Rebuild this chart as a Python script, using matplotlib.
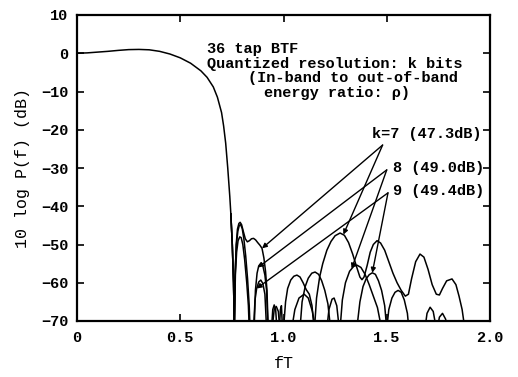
import numpy as np
import matplotlib
matplotlib.use("Agg")
import matplotlib.pyplot as plt

# common passband / transition (fT, dB)
pass_f = [0.0, 0.05, 0.1, 0.15, 0.2, 0.25, 0.3, 0.35, 0.4, 0.45, 0.5, 0.55, 0.6, 0.63, 0.66,
          0.68, 0.7, 0.71, 0.72, 0.73, 0.74, 0.745]
pass_db = [0.0, 0.1, 0.3, 0.5, 0.75, 0.95, 1.0, 0.9, 0.5, -0.2, -1.2, -2.6, -4.6, -6.3, -8.8,
           -11.5, -15.5, -19.0, -23.5, -30.0, -37.5, -42.0]

# stopband, k = 7
k7_f = [0.745, 0.752, 0.758, 0.762, 0.766, 0.771, 0.777, 0.784, 0.79, 0.797, 0.805, 0.815,
        0.825, 0.835, 0.845, 0.855, 0.865, 0.875, 0.886, 0.896, 0.905, 0.913, 0.92, 0.926,
        0.942, 0.948, 0.955, 0.962, 0.968,
        1.0, 1.01, 1.02, 1.035, 1.05, 1.065, 1.08, 1.095, 1.11, 1.125, 1.138, 1.148,
        1.15, 1.16, 1.175, 1.19, 1.21, 1.23, 1.25, 1.274, 1.295, 1.315, 1.335, 1.355, 1.37,
        1.38, 1.39, 1.405, 1.42, 1.435, 1.453, 1.47, 1.49, 1.51, 1.53, 1.55, 1.57, 1.59,
        1.605, 1.62, 1.64, 1.661, 1.68, 1.70, 1.72, 1.74, 1.755, 1.77, 1.79, 1.816, 1.835,
        1.85, 1.865, 1.878]
k7_db = [-42.0, -50.0, -60.0, -72.0, -58.0, -50.0, -46.0, -44.5, -44.2, -44.8, -46.5, -48.5,
         -49.3, -49.0, -48.5, -48.4, -48.8, -49.5, -50.2, -51.0, -53.5, -57.0, -62.0, -72.0,
         -72.0, -67.0, -65.8, -67.0, -72.0,
         -72.0, -65.0, -61.5, -59.3, -58.3, -58.0, -58.5, -60.0, -61.8, -63.0, -66.0, -72.0,
         -72.0, -64.0, -58.5, -55.0, -51.5, -49.2, -47.7, -47.0, -47.6, -49.5, -52.5, -56.0,
         -58.5, -59.2, -58.5, -55.5, -52.0, -50.0, -49.0, -49.6, -51.5, -54.5, -57.5, -60.0,
         -62.0, -63.5, -63.0, -59.0, -54.5, -52.5, -53.3, -56.5, -60.5, -63.0, -63.2, -61.5,
         -59.5, -59.0, -60.5, -63.5, -67.0, -72.0]

# stopband, k = 8
k8_f = [0.745, 0.752, 0.758, 0.762, 0.766, 0.772, 0.779, 0.786, 0.792, 0.80, 0.808, 0.817,
        0.826, 0.834, 0.838,
        0.858, 0.864, 0.872, 0.88, 0.89, 0.90, 0.91, 0.918, 0.925,
        0.945, 0.955, 0.965, 0.975, 0.982,
        1.08, 1.09, 1.105, 1.12, 1.137, 1.153, 1.17, 1.185, 1.20, 1.215, 1.228,
        1.274, 1.285, 1.30, 1.32, 1.34, 1.356, 1.375, 1.395, 1.415, 1.435, 1.455, 1.475,
        1.50, 1.51, 1.525, 1.54, 1.555, 1.57, 1.585, 1.60, 1.607,
        1.685, 1.695, 1.71, 1.725, 1.74]
k8_db = [-42.0, -50.0, -60.0, -72.0, -57.0, -50.0, -46.5, -45.0, -44.8, -45.8, -48.5, -53.0,
         -59.0, -66.0, -72.0,
         -72.0, -62.0, -57.5, -55.6, -54.9, -55.6, -58.0, -62.0, -72.0,
         -72.0, -67.0, -66.2, -67.5, -72.0,
         -72.0, -65.0, -61.0, -58.8, -57.5, -57.2, -57.8, -59.5, -62.0, -65.5, -72.0,
         -72.0, -64.5, -60.0, -57.0, -55.7, -55.4, -56.0, -57.8, -60.5, -63.5, -66.5, -72.0,
         -72.0, -67.0, -64.0, -62.5, -62.0, -62.5, -64.5, -68.0, -72.0,
         -72.0, -68.0, -66.4, -67.5, -72.0]

# stopband, k = 9
k9_f = [0.745, 0.752, 0.758, 0.762, 0.767, 0.773, 0.78, 0.788, 0.795, 0.803, 0.812, 0.822,
        0.83, 0.834,
        0.855, 0.862, 0.87, 0.88, 0.89, 0.90, 0.91, 0.918,
        0.98, 0.985, 0.99, 0.995,
        1.04, 1.055, 1.075, 1.10, 1.12, 1.14, 1.155,
        1.21, 1.22, 1.235, 1.245, 1.258, 1.27,
        1.355, 1.37, 1.385, 1.40, 1.415, 1.43, 1.445, 1.46, 1.475, 1.49, 1.50,
        1.745, 1.755, 1.77, 1.785, 1.795]
k9_db = [-42.0, -50.0, -60.0, -72.0, -58.0, -52.0, -49.0, -48.0, -48.2, -50.0, -54.0, -60.0,
         -66.0, -72.0,
         -72.0, -64.5, -61.5, -59.8, -59.3, -60.2, -63.0, -72.0,
         -72.0, -67.0, -66.0, -72.0,
         -72.0, -67.0, -64.0, -63.0, -64.0, -67.5, -72.0,
         -72.0, -67.0, -64.3, -64.0, -66.0, -72.0,
         -72.0, -65.0, -61.0, -59.0, -57.9, -57.4, -57.8, -59.5, -62.0, -66.0, -72.0,
         -72.0, -69.0, -68.0, -69.5, -72.0]

header_lines = ["36 tap BTF", "Quantized resolution: k bits", "(In-band to out-of-band",
                "energy ratio: \u03c1)"]
header_x = [0.63, 0.63, 0.828, 0.905]
header_y = [1.1, -2.7, -6.6, -10.4]

k_labels = ["k=7 (47.3dB)", "8 (49.0dB)", "9 (49.4dB)"]
k_label_x = [1.43, 1.53, 1.53]
k_label_y = [-21.0, -30.0, -36.0]
k_from = [(1.48, -24.0), (1.50, -30.5), (1.506, -36.5)]
k_to = [[(0.896, -51.0), (1.29, -47.4)],
        [(0.877, -56.0), (1.33, -56.3)],
        [(0.87, -61.5), (1.43, -57.4)]]

plt.rcParams['font.family'] = ['Liberation Mono', 'DejaVu Sans Mono']
plt.rcParams['font.weight'] = 'bold'

fig = plt.figure(figsize=(5.18, 3.77), dpi=100)
ax = fig.add_axes([77/518, 56/377, 413/518, 306/377])

lw = 1.1
ax.plot(pass_f, pass_db, color='black', lw=lw)
ax.plot(k7_f, k7_db, color='black', lw=lw)
ax.plot(k8_f, k8_db, color='black', lw=lw)
ax.plot(k9_f, k9_db, color='black', lw=lw)

for txt, x, y in zip(header_lines, header_x, header_y):
    ax.text(x, y, txt, fontsize=11, ha='left', va='center')

for txt, x, y in zip(k_labels, k_label_x, k_label_y):
    ax.text(x, y, txt, fontsize=11, ha='left', va='center')

for src, targets in zip(k_from, k_to):
    for tgt in targets:
        ax.annotate('', xy=tgt, xytext=src,
                    arrowprops=dict(arrowstyle='-|>', color='black', lw=1.0,
                                    mutation_scale=7, shrinkA=0, shrinkB=0))

ax.set_xlim(0, 2.0)
ax.set_ylim(-70, 10)
ax.set_xticks([0, 0.5, 1.0, 1.5, 2.0])
ax.set_xticklabels(['0', '0.5', '1.0', '1.5', '2.0'])
ax.set_yticks(np.arange(-70, 11, 10))
ax.tick_params(direction='in', length=5, width=1.2, labelsize=11, top=True, right=True,
               labeltop=False, labelright=False)
ax.tick_params(axis='y', pad=6)
ax.tick_params(axis='x', pad=7)
for s in ax.spines.values():
    s.set_linewidth(1.6)

ax.set_xlabel('fT', fontsize=12, labelpad=8)
ax.set_ylabel('10 log P(f) (dB)', fontsize=12, labelpad=8)

fig.savefig('out.png', dpi=100)
